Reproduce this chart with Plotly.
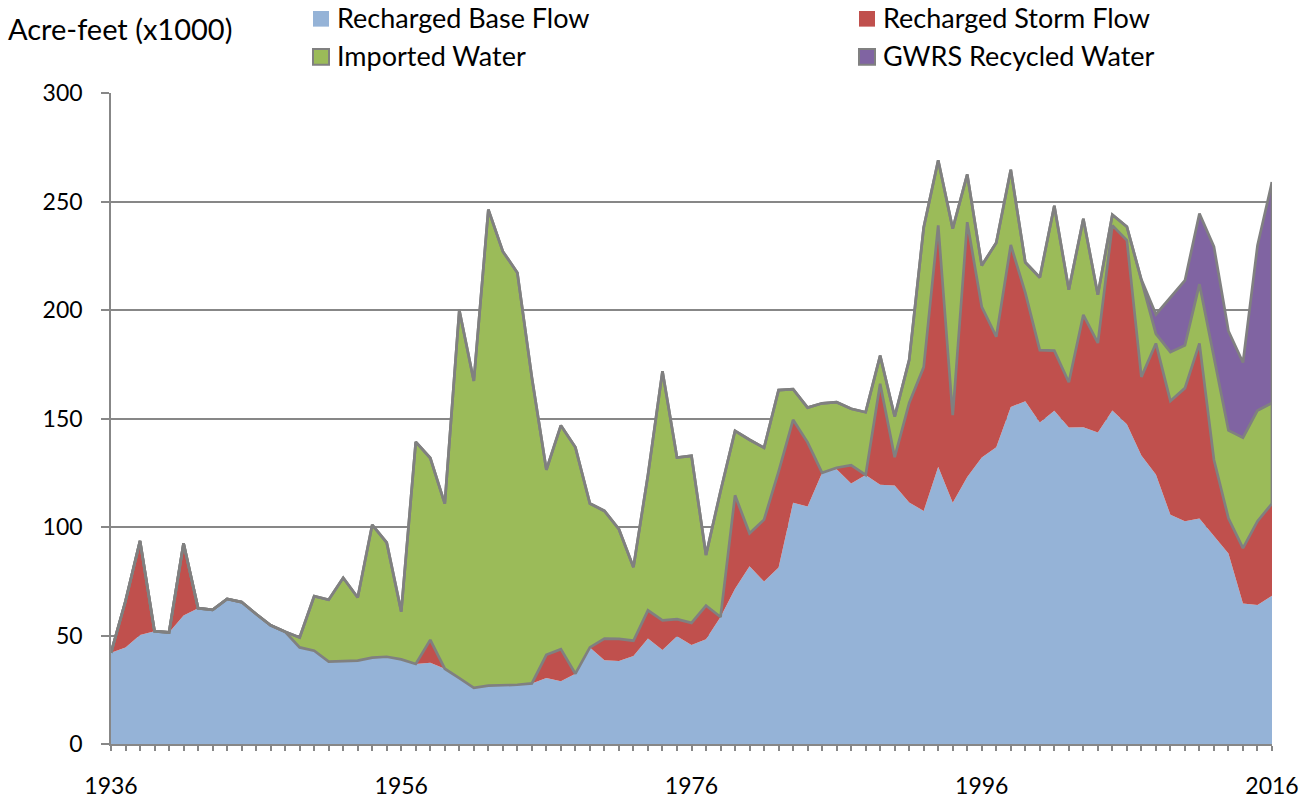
import plotly.graph_objects as go

# Orange County groundwater recharge by source, thousands of acre-feet
years = list(range(1936, 2017))

base_flow = [
    42, 44.5, 50.2, 52, 51.4, 59.2, 62.6, 61.8, 66.9, 65.4,
    59.9, 54.7, 51.7, 44.5, 43, 38, 38.2, 38.4, 39.8, 40.2,
    39, 36.9, 37.4, 34.7, 30.4, 25.9, 26.9, 27.1, 27.3, 27.9,
    30.4, 28.9, 32.4, 44.5, 38.6, 38.2, 40.6, 48.6, 43.3, 49.6,
    45.6, 48.3, 58.5, 71.6, 81.9, 74.9, 81.3, 111.2, 109.4, 125,
    126.6, 120, 124, 119.5, 119.1, 111.3, 107.4, 127.8, 111.2, 123,
    132, 136.7, 155.3, 158, 148.2, 153.6, 145.8, 146, 143.6, 153.7,
    147.4, 133, 124.2, 105.6, 102.6, 103.9, 95.8, 87.8, 64.8, 64, 68.3,
]

storm_flow = [
    0, 21.4, 43.4, 0, 0, 33.3, 0, 0, 0, 0,
    0, 0, 0, 0, 0, 0, 0, 0, 0, 0,
    0, 0, 10.6, 0, 0, 0, 0, 0, 0, 0,
    10.7, 14.8, 0, 0, 10, 10.2, 7, 13, 13.7, 7.9,
    10.2, 15.5, 0, 43, 15.2, 28.5, 44.2, 38.2, 29.6, 0,
    0.7, 8.5, 0, 46.5, 13.1, 45.9, 66.3, 111.2, 40.3, 117.5,
    69.5, 51, 74.7, 50, 33.3, 27.7, 20.9, 51.8, 41.2, 85.3,
    84.7, 36.2, 60.4, 52.5, 61.4, 80.7, 35.2, 16.2, 25.5, 38.7, 42.5,
]

imported = [
    0, 0, 0, 0, 0, 0, 0, 0, 0, 0,
    0, 0, 0, 4.6, 25.1, 28.5, 38.4, 29.1, 61.2, 52.6,
    22, 102.3, 83.8, 76.1, 169.6, 141.4, 219.4, 199.9, 189.9, 141,
    85.3, 103.1, 104.3, 66.3, 58.8, 50.6, 33.9, 62.4, 114.8, 74.5,
    77, 23.3, 58, 29.7, 43.1, 33.1, 37.6, 14.1, 16, 32,
    30.2, 26, 28.9, 13, 18.7, 19.8, 64.3, 30, 86, 22,
    19, 43.3, 34.6, 14, 33.5, 66.7, 42.6, 44.2, 22.2, 4.9,
    6.3, 44.8, 4.4, 22.5, 19.7, 27.3, 47.5, 40.5, 50.9, 51, 46.4,
]

gwrs_recycled = [0] * 72 + [9, 25.4, 29.9, 32.6, 50.7, 45.8, 34.6, 76, 101.8]

series_names = ["Recharged Base Flow", "Recharged Storm Flow",
                "Imported Water", "GWRS Recycled Water"]
series_values = [base_flow, storm_flow, imported, gwrs_recycled]
fill_colors = ["#95B3D7", "#C0504D", "#9BBB59", "#8064A2"]
outlined = [False, True, True, True]

EDGE = "#808080"
AXIS = "#878787"
FONT = "Lato"

W, H = 1312, 811
L, R, T, B = 111, 40, 93, 51
PW, PH = W - L - R, H - T - B


def px_x(x):
    return (x - L) / PW


def px_y(y):
    return (H - B - y) / PH


fig = go.Figure()

for name, vals, col, edge in zip(series_names, series_values, fill_colors, outlined):
    fig.add_trace(go.Scatter(
        x=years, y=vals, name=name, stackgroup="recharge", mode="lines",
        fillcolor=col,
        line=dict(color=EDGE if edge else col, width=2.7 if edge else 0),
        showlegend=False, hoverinfo="x+y+name",
    ))

# closing edge of the outlined bands at the last year
last_storm_top = base_flow[-1] + storm_flow[-1]
last_total = last_storm_top + imported[-1] + gwrs_recycled[-1]
fig.add_trace(go.Scatter(
    x=[years[-1], years[-1]], y=[last_storm_top, last_total], mode="lines",
    line=dict(color=EDGE, width=2.7), showlegend=False, hoverinfo="skip",
    cliponaxis=False,
))

# legend: two rows of square swatches with labels
legend_layout = [
    (0, 313, 17), (1, 859, 17), (2, 313, 56), (3, 859, 56),
]
shapes = []
annotations = []
for idx, sx, sy in legend_layout:
    shapes.append(dict(
        type="rect", xref="paper", yref="paper",
        x0=px_x(sx), x1=px_x(sx + 16), y0=px_y(sy - 8), y1=px_y(sy + 8),
        fillcolor=fill_colors[idx],
        line=dict(color=EDGE if idx in (2, 3) else fill_colors[idx],
                  width=2 if idx in (2, 3) else 0),
        layer="above",
    ))
    annotations.append(dict(
        xref="paper", yref="paper", x=px_x(sx + 22), y=px_y(sy - 1),
        xanchor="left", yanchor="middle", showarrow=False,
        text=series_names[idx], font=dict(family=FONT, size=27, color="#000000"),
    ))

annotations.append(dict(
    xref="paper", yref="paper", x=px_x(6), y=px_y(27),
    xanchor="left", yanchor="middle", showarrow=False,
    text="Acre-feet (x1000)", font=dict(family=FONT, size=29, color="#000000"),
))

fig.update_layout(
    width=W, height=H,
    margin=dict(l=L, r=R, t=T, b=B, pad=0),
    paper_bgcolor="white", plot_bgcolor="white",
    font=dict(family=FONT, color="#000000"),
    shapes=shapes, annotations=annotations,
    xaxis=dict(
        range=[1936, 2016], tickvals=[1936, 1956, 1976, 1996, 2016],
        ticks="outside", ticklen=5, tickwidth=1.5, tickcolor=AXIS,
        showline=True, linecolor=AXIS, linewidth=1.5,
        showgrid=False, zeroline=False, ticklabelstandoff=16,
        tickfont=dict(family=FONT, size=23, color="#000000"),
        minor=dict(tick0=1936, dtick=1, ticks="outside", ticklen=5,
                   tickwidth=1.5, tickcolor=AXIS, showgrid=False),
    ),
    yaxis=dict(
        range=[0, 300], tick0=0, dtick=50,
        ticks="outside", ticklen=8, tickwidth=1.5, tickcolor=AXIS,
        showline=True, linecolor=AXIS, linewidth=1.5,
        showgrid=True, gridcolor=AXIS, gridwidth=1.5,
        zeroline=False, ticklabelstandoff=14,
        tickfont=dict(family=FONT, size=23, color="#000000"),
    ),
)

fig.write_html("out.html")
